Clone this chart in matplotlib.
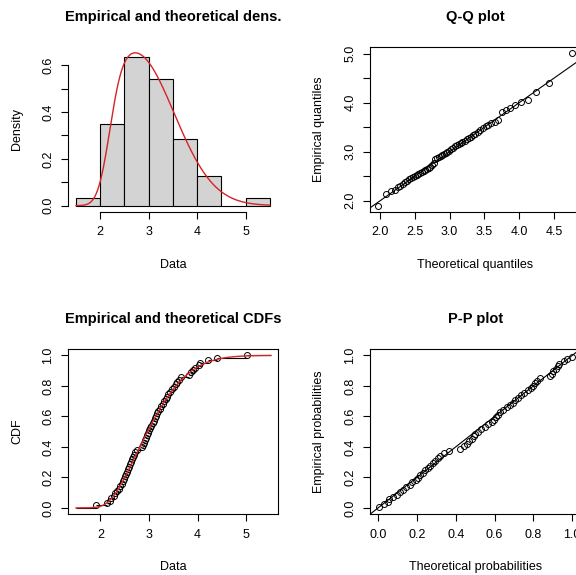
import math
import numpy as np
import matplotlib
matplotlib.use("Agg")
import matplotlib.pyplot as plt

plt.rcParams['font.family'] = ['Liberation Sans', 'DejaVu Sans']

# ---------------- data (sorted observations, n = 63) ----------------
obs = [1.90,
       2.13, 2.19, 2.22, 2.27, 2.31, 2.35, 2.38, 2.41, 2.44, 2.46, 2.49,
       2.51, 2.53, 2.55, 2.57, 2.59, 2.61, 2.63, 2.65, 2.67, 2.69,
       2.72, 2.76, 2.85, 2.88, 2.90, 2.92, 2.94, 2.96, 2.97, 2.99,
       3.02, 3.05, 3.08, 3.11, 3.13, 3.15, 3.17, 3.19, 3.22, 3.25,
       3.28, 3.31, 3.34, 3.37, 3.40, 3.44, 3.48,
       3.52, 3.55, 3.58, 3.61, 3.65, 3.82, 3.86, 3.90, 3.95,
       4.02, 4.05, 4.22, 4.40,
       5.02]
breaks = [1.5, 2.0, 2.5, 3.0, 3.5, 4.0, 4.5, 5.0, 5.5]

# fitted theoretical distribution (skewed normal with soft left cut-off)
fit_mu = 2.70
fit_sigma = 0.82
fit_cut = 2.15
fit_cut_scale = 0.20

titles = ["Empirical and theoretical dens.", "Q-Q plot",
          "Empirical and theoretical CDFs", "P-P plot"]
xlabels = ["Data", "Theoretical quantiles", "Data", "Theoretical probabilities"]
ylabels = ["Density", "Empirical quantiles", "CDF", "Empirical probabilities"]

RED = '#d42424'


def norm_cdf(z):
    z = np.asarray(z, dtype=float)
    return 0.5 * np.vectorize(math.erfc)(-z / math.sqrt(2.0))


def dtheo(x):
    x = np.asarray(x, dtype=float)
    z = (x - fit_mu) / fit_sigma
    phi = np.exp(-0.5 * z * z) / math.sqrt(2 * math.pi) / fit_sigma
    k = 0.5 * math.erfc(-((fit_mu - fit_cut) / math.hypot(fit_sigma, fit_cut_scale)) / math.sqrt(2.0))
    return phi * norm_cdf((x - fit_cut) / fit_cut_scale) / k


grid = np.linspace(-1.0, 9.0, 20001)
dgrid = dtheo(grid)
cgrid = np.concatenate([[0.0], np.cumsum((dgrid[1:] + dgrid[:-1]) / 2 * np.diff(grid))])
cgrid /= cgrid[-1]


def ptheo(x):
    return np.interp(x, grid, cgrid)


def qtheo(p):
    return np.interp(p, cgrid, grid)


x = np.sort(np.array(obs))
n = len(x)
ppts = (np.arange(1, n + 1) - 0.5) / n
ecdf_y = np.arange(1, n + 1) / n


def rlim(lo, hi):
    d = (hi - lo) * 0.04
    return lo - d, hi + d


W, H = 576, 575
fig = plt.figure(figsize=(W / 100, H / 100), dpi=100)

POS = [(68.2, 277.7, 46.7, 211.7),
       (370.3, 580.0, 46.7, 211.7),
       (68.3, 278.3, 349.3, 514.0),
       (370.3, 580.0, 349.3, 514.0)]


def make_ax(i):
    x0, x1, yt, yb = POS[i]
    ax = fig.add_axes([x0 / W, 1 - yb / H, (x1 - x0) / W, (yb - yt) / H])
    for s in ax.spines.values():
        s.set_linewidth(0.8)
    ax.tick_params(direction='out', length=5, width=0.8, labelsize=9,
                   colors='black')
    ax.tick_params(axis='x', pad=5.5)
    ax.tick_params(axis='y', pad=5.0, labelrotation=90)
    cx = (x0 + x1) / 2
    cy = (yt + yb) / 2
    fig.text(cx / W, 1 - (yt - 30) / H, titles[i], ha='center', va='center',
             fontsize=10.5, fontweight='bold')
    fig.text(cx / W, 1 - (yb + 53) / H, xlabels[i], ha='center', va='center',
             fontsize=9)
    fig.text((x0 - 51) / W, 1 - cy / H, ylabels[i], ha='center', va='center',
             fontsize=9, rotation=90)
    return ax


def finish_y(ax):
    for lab in ax.get_yticklabels():
        lab.set_va('center')


# ---------------- density ----------------
ax = make_ax(0)
heights, edges = np.histogram(x, bins=breaks, density=True)
ax.bar(edges[:-1], heights, width=np.diff(edges), align='edge',
       color='#d3d3d3', edgecolor='black', linewidth=0.8)
xs = np.linspace(breaks[0], breaks[-1], 801)
ds = dtheo(xs)
ax.plot(xs, ds, color=RED, lw=1.0)
top = max(heights.max(), ds.max())
ax.set_xlim(*rlim(breaks[0], breaks[-1]))
ax.set_ylim(*rlim(0, top))
ax.spines['top'].set_visible(False)
ax.spines['right'].set_visible(False)
ax.spines['left'].set_bounds(0, 0.6)
ax.spines['bottom'].set_bounds(2, 5)
ax.set_xticks([2, 3, 4, 5])
ax.set_xticklabels(['2', '3', '4', '5'])
yt = np.round(np.arange(0, 0.61, 0.1), 1)
ax.set_yticks(yt)
ax.set_yticklabels(['0.0', '', '0.2', '', '0.4', '', '0.6'])
finish_y(ax)

# ---------------- Q-Q ----------------
ax = make_ax(1)
qt = qtheo(ppts)
ax.plot(qt, x, 'o', mfc='none', mec='black', ms=4.3, mew=0.7)
ax.axline((0, 0), slope=1, color='black', lw=0.8)
ax.set_xlim(*rlim(qt.min(), qt.max()))
ax.set_ylim(*rlim(x.min(), x.max()))
ax.set_xticks(np.arange(2.0, 4.51, 0.5))
ax.set_xticklabels(['2.0', '2.5', '3.0', '3.5', '4.0', '4.5'])
ax.set_yticks(np.arange(2.0, 5.01, 0.5))
ax.set_yticklabels(['2.0', '', '3.0', '', '4.0', '', '5.0'])
finish_y(ax)

# ---------------- CDF ----------------
ax = make_ax(2)
ax.hlines(ecdf_y[:-1], x[:-1], x[1:], color='black', lw=0.8)
ax.hlines([0], breaks[0], x[0], color='black', lw=0.8)
ax.hlines([1], x[-1], breaks[-1], color='black', lw=0.8)
ax.plot(x, ecdf_y, 'o', mfc='none', mec='black', ms=4.3, mew=0.7)
ax.plot(xs, ptheo(xs), color=RED, lw=1.0)
ax.set_xlim(*rlim(breaks[0], breaks[-1]))
ax.set_ylim(*rlim(0, 1))
ax.set_xticks([2, 3, 4, 5])
ax.set_xticklabels(['2', '3', '4', '5'])
ax.set_yticks(np.arange(0, 1.01, 0.2))
ax.set_yticklabels(['0.0', '0.2', '0.4', '0.6', '0.8', '1.0'])
finish_y(ax)

# ---------------- P-P ----------------
ax = make_ax(3)
pt = ptheo(x)
ax.plot(pt, ppts, 'o', mfc='none', mec='black', ms=4.3, mew=0.7)
ax.axline((0, 0), slope=1, color='black', lw=0.8)
ax.set_xlim(*rlim(0, 1))
ax.set_ylim(*rlim(0, 1))
ax.set_xticks(np.arange(0, 1.01, 0.2))
ax.set_xticklabels(['0.0', '0.2', '0.4', '0.6', '0.8', '1.0'])
ax.set_yticks(np.arange(0, 1.01, 0.2))
ax.set_yticklabels(['0.0', '0.2', '0.4', '0.6', '0.8', '1.0'])
finish_y(ax)

fig.savefig('out.png', dpi=100, facecolor='white')
